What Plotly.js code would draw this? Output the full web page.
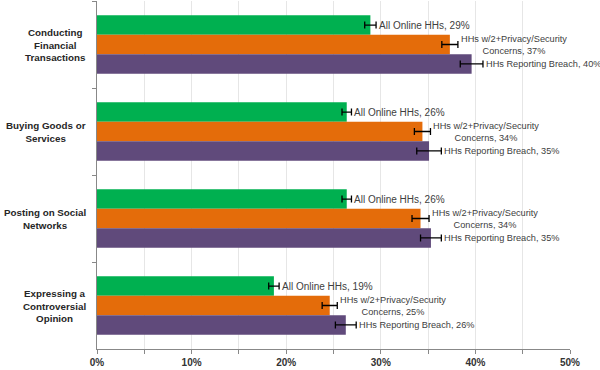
<!DOCTYPE html>
<html>
<head>
<meta charset="utf-8">
<script src="https://cdn.plot.ly/plotly-3.0.1.min.js"></script>
<style>html,body{margin:0;padding:0;background:#fff;}#chart{width:600px;height:370px;}</style>
</head>
<body>
<div id="chart"></div>
<script>
const categories = ["Conducting<br>Financial<br>Transactions", "Buying Goods or<br>Services", "Posting on Social<br>Networks", "Expressing a<br>Controversial<br>Opinion"];
const seriesNames = ["All Online HHs", "HHs w/2+Privacy/Security<br>Concerns", "HHs Reporting Breach"];
const allOnline = [28.9, 26.4, 26.4, 18.7];
const allOnlineErr = [0.6, 0.5, 0.5, 0.55];
const privacyConcerns = [37.3, 34.4, 34.2, 24.6];
const privacyConcernsErr = [0.85, 0.85, 0.9, 0.8];
const reportingBreach = [39.6, 35.1, 35.3, 26.3];
const reportingBreachErr = [1.2, 1.3, 1.1, 1.1];
const xTickVals = [0, 10, 20, 30, 40, 50];
const xTickText = ["0%", "10%", "20%", "30%", "40%", "50%"];

const colors = ["#00B050", "#E46C0A", "#604A7B"];
const labelSizes = [10, 9.2, 9.2];
const values = [allOnline, privacyConcerns, reportingBreach];
const errs = [allOnlineErr, privacyConcernsErr, reportingBreachErr];

const traces = values.map((v, i) => ({
  type: "bar",
  orientation: "h",
  y: categories,
  x: v,
  name: seriesNames[i],
  marker: {color: colors[i]},
  error_x: {type: "data", array: errs[i], visible: true, color: "#000", thickness: 1.3, width: 3.5},
  hoverinfo: "none"
}));

const bandPx = 348 / 4;
const barPx = bandPx * 0.67 / 3;
const shifts = [barPx, 0, -barPx];
const annotations = [];
values.forEach((v, i) => {
  v.forEach((val, j) => {
    annotations.push({
      xref: "x", yref: "y",
      x: val + errs[i][j], y: categories[j],
      xanchor: "left", yanchor: "middle", align: "center",
      xshift: 1, yshift: shifts[i],
      showarrow: false,
      text: seriesNames[i] + ", " + Math.round(val) + "%",
      font: {family: "Liberation Sans, Arial, sans-serif", size: labelSizes[i], color: "#404040"}
    });
  });
});
categories.forEach((c) => {
  annotations.push({
    xref: "paper", yref: "y", x: -0.019, y: c,
    xanchor: "right", yanchor: "middle", align: "center",
    showarrow: false, text: "<b>" + c + "</b>",
    font: {family: "Liberation Sans, Arial, sans-serif", size: 9.8, color: "#262626"}
  });
});

const layout = {
  width: 600, height: 370,
  margin: {l: 97, r: 30, t: 1, b: 21},
  paper_bgcolor: "#fff", plot_bgcolor: "#fff",
  barmode: "group", bargap: 0.33, bargroupgap: 0,
  showlegend: false,
  xaxis: {
    range: [0, 50], tickvals: xTickVals, ticktext: xTickText,
    showgrid: true, gridcolor: "#e6e6e6", gridwidth: 1,
    minor: {dtick: 5, showgrid: true, gridcolor: "#e6e6e6", ticks: "outside", ticklen: 4, tickcolor: "#888"},
    ticks: "outside", ticklen: 4, tickcolor: "#888",
    showline: true, linecolor: "#888", linewidth: 1,
    zeroline: false, fixedrange: true,
    tickfont: {family: "Liberation Sans, Arial, sans-serif", size: 10, color: "#333", weight: "bold"}
  },
  yaxis: {
    autorange: "reversed", showticklabels: false,
    tickson: "boundaries", ticks: "outside", ticklen: 4, tickcolor: "#888",
    showline: true, linecolor: "#888", linewidth: 1,
    showgrid: false, zeroline: false, fixedrange: true
  },
  annotations: annotations,
  font: {family: "Liberation Sans, Arial, sans-serif"}
};

Plotly.newPlot("chart", traces, layout, {staticPlot: true, displayModeBar: false});
</script>
</body>
</html>
